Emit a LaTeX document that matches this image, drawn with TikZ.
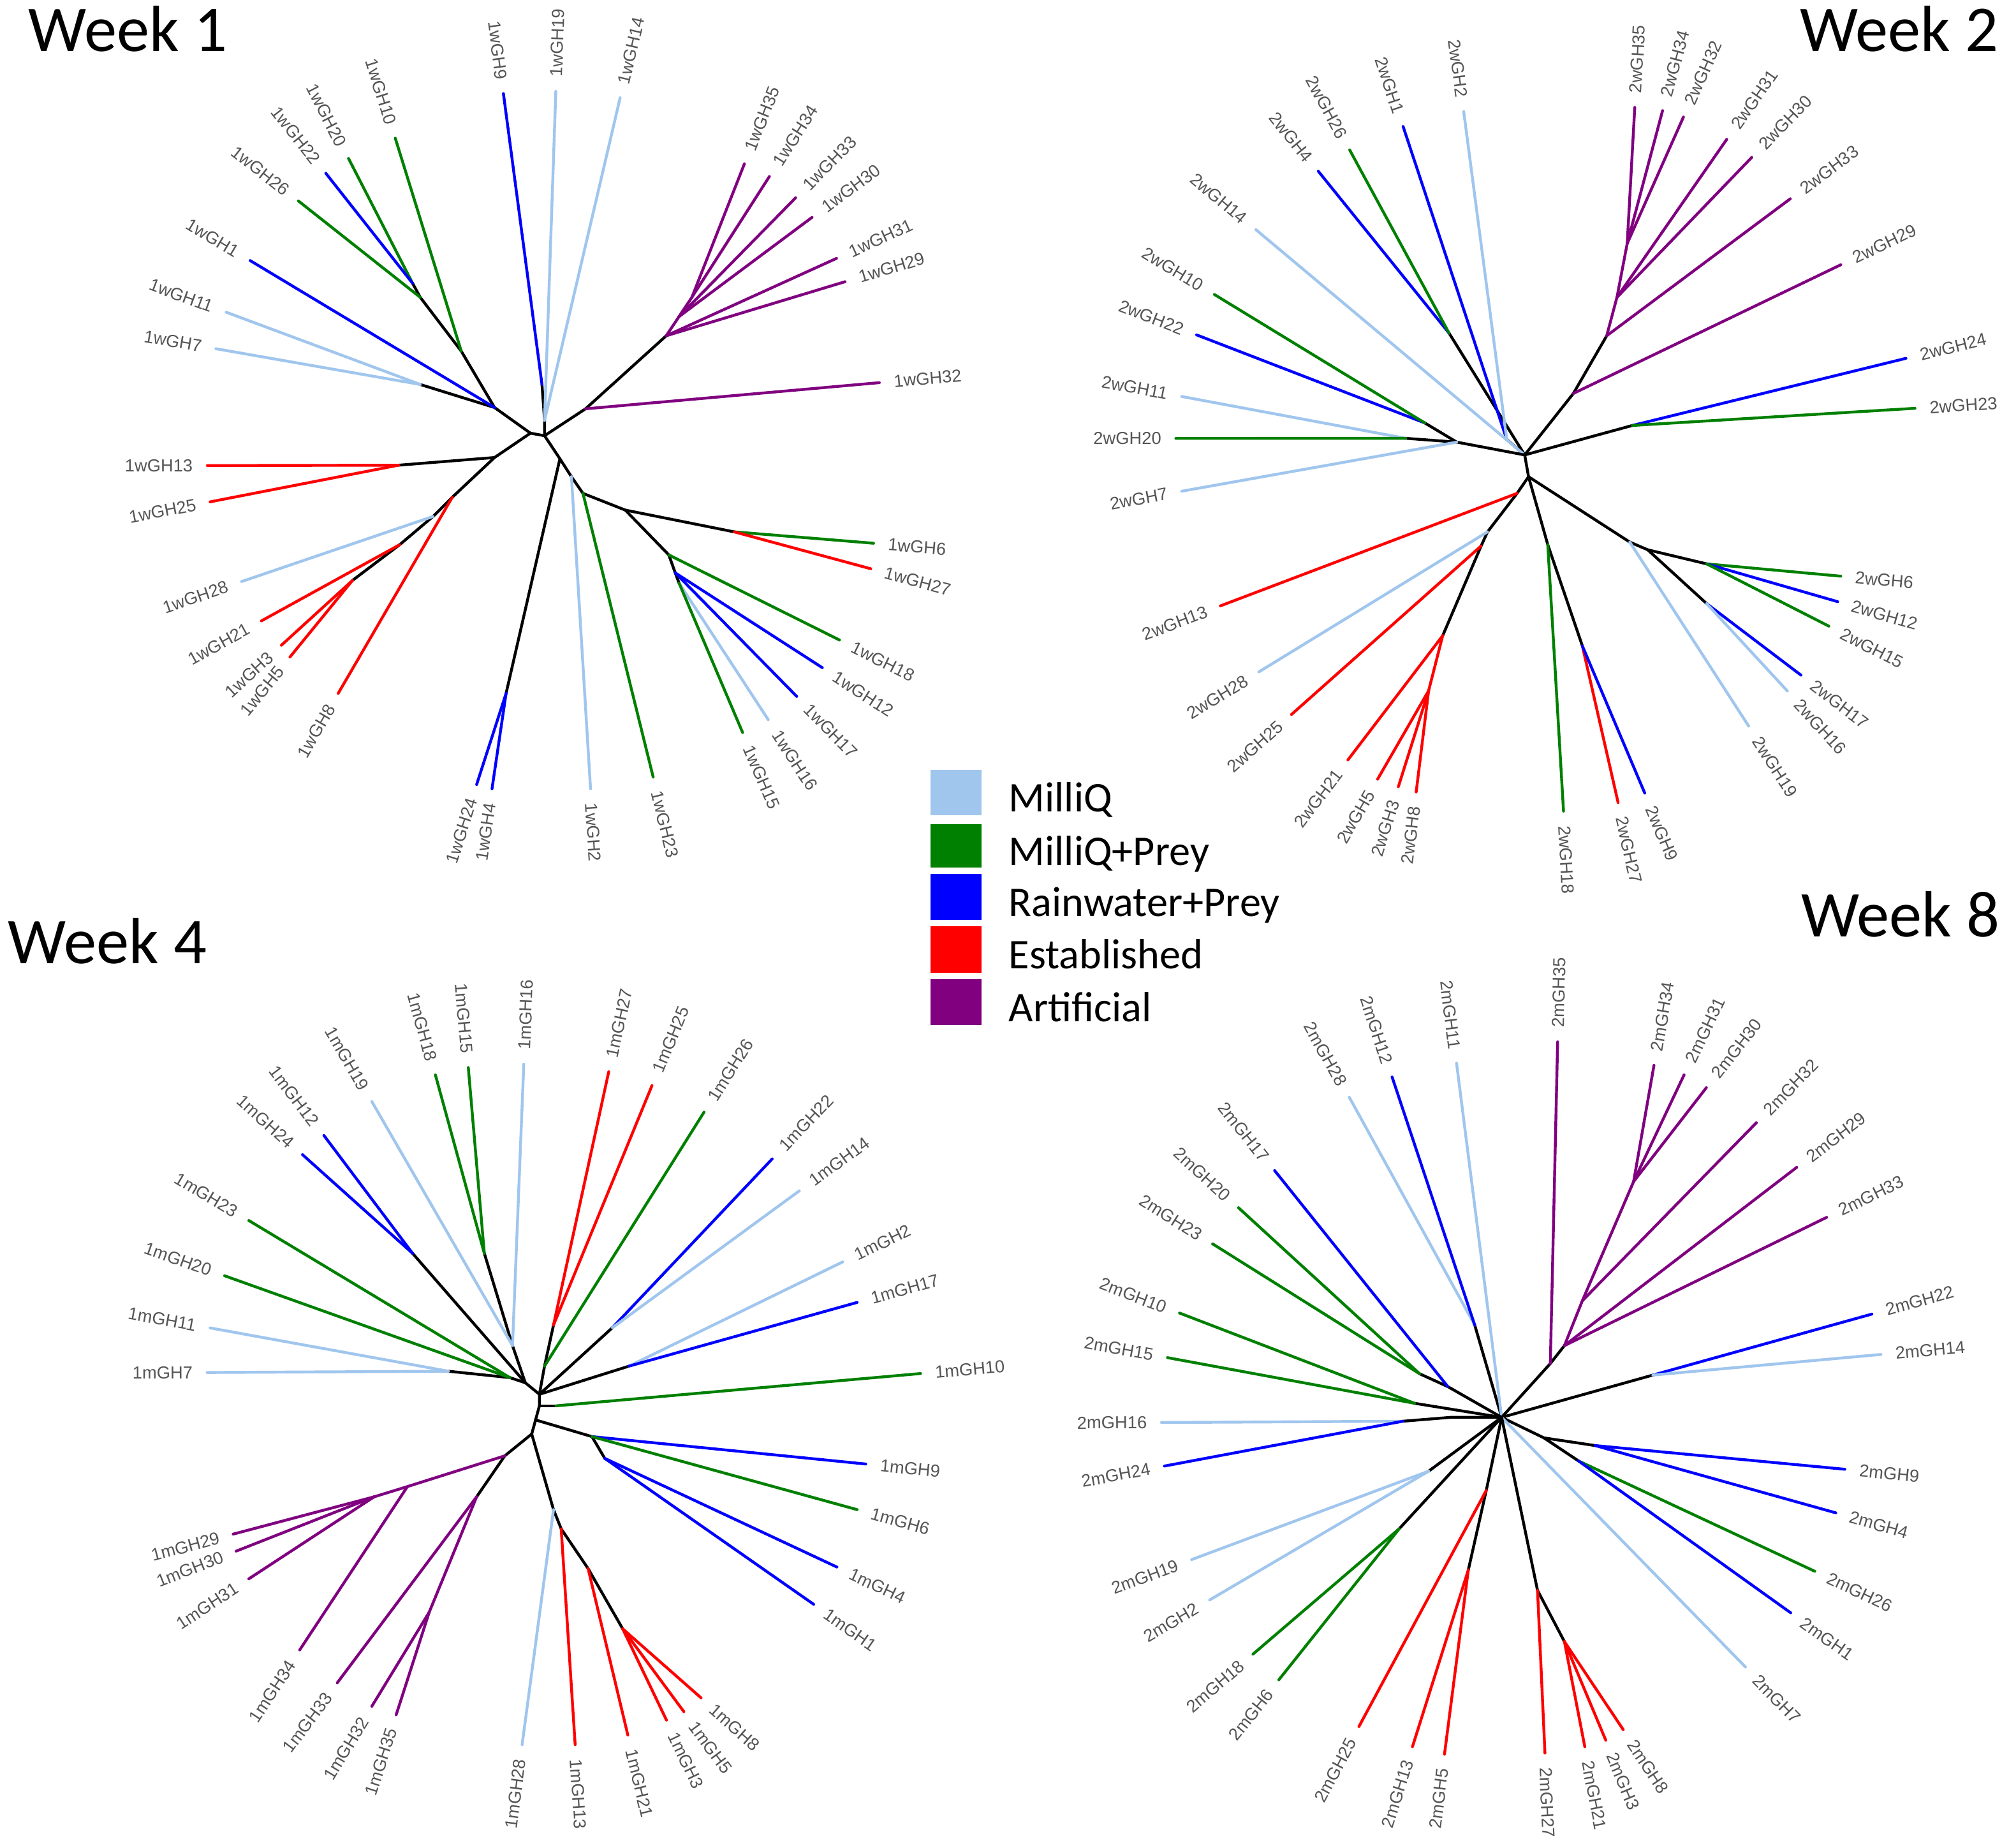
\documentclass[tikz,border=0pt]{standalone}
\usepackage{fontspec}
\usetikzlibrary{calc}
\newfontfamily\lblfont{Liberation Sans}
\newfontfamily\calfont{Carlito}
\definecolor{mq}{RGB}{160,198,238}
\definecolor{mp}{RGB}{0,128,0}
\definecolor{rp}{RGB}{0,0,255}
\definecolor{es}{RGB}{255,0,0}
\definecolor{ar}{RGB}{128,0,128}
\definecolor{lblgray}{RGB}{85,85,85}
\tikzset{
  br/.style={line width=1.1pt, line cap=round, line join=round},
  lbl/.style={font=\lblfont\fontsize{6.8}{8}\selectfont, text=lblgray, inner sep=0pt},
  wtitle/.style={font=\calfont\fontsize{25.5}{28}\selectfont, inner sep=0pt},
  legbox/.style={minimum width=20pt, inner sep=0pt, draw=none},
  legtxt/.style={font=\calfont\fontsize{16.5}{18}\selectfont, inner sep=0pt},
}
\newif\ifleafflip
\newcommand\leafedge[5]{%
  \coordinate (#5) at (#3);
  \draw[br,#1] (#2) -- (#5);
  \pgfmathanglebetweenpoints{\pgfpointanchor{#2}{center}}{\pgfpointanchor{#5}{center}}%
  \pgfmathparse{mod(\pgfmathresult+360,360)}%
  \edef\leafang{\pgfmathresult}%
  \leafflipfalse
  \ifdim\leafang pt>90pt\relax\ifdim\leafang pt<270pt\relax\leaffliptrue\fi\fi
  \ifleafflip
    \node[lbl,anchor=east,rotate={\leafang-180}] (#5l) at ($(#5)!-5.5pt!(#2)$) {#4};
  \else
    \node[lbl,anchor=west,rotate={\leafang}] (#5l) at ($(#5)!-5.5pt!(#2)$) {#4};
  \fi
}
\begin{document}
\begin{tikzpicture}[x=0.5pt,y=-0.5pt]
\fill[white] (0,0) rectangle (1568,1442);
\useasboundingbox (0,0) rectangle (1568,1442);

% ---------------- titles ----------------
\node[wtitle,anchor=base west] (t1) at (22,40) {Week 1};
\node[wtitle,anchor=base east] (t2) at (1560,40) {Week 2};
\node[wtitle,anchor=base west] (t4) at (6,752) {Week 4};
\node[wtitle,anchor=base east] (t8) at (1561,731) {Week 8};

% ---------------- legend ----------------
\node[legbox,fill=mq,minimum height=17.5pt] (k1) at (746,618.5) {};
\node[legbox,fill=mp,minimum height=17pt] (k2) at (746,660) {};
\node[legbox,fill=rp,minimum height=18pt] (k3) at (746,700) {};
\node[legbox,fill=es,minimum height=18pt] (k4) at (746,741) {};
\node[legbox,fill=ar,minimum height=18pt] (k5) at (746,782) {};
\node[legtxt,anchor=base west] (k1t) at (787,633.5) {MilliQ};
\node[legtxt,anchor=base west] (k2t) at (787,675) {MilliQ+Prey};
\node[legtxt,anchor=base west] (k3t) at (787,715) {Rainwater+Prey};
\node[legtxt,anchor=base west] (k4t) at (787,756) {Established};
\node[legtxt,anchor=base west] (k5t) at (787,797) {Artificial};

% ================= Week 1 =================
\coordinate (aC1) at (414,338);
\coordinate (aC2) at (425,340);
\draw[br] (aC1) -- (aC2);
% top-left
\coordinate (an1a) at (322,221);
\coordinate (an1b) at (328,232);
\coordinate (an1c) at (360,274);
\coordinate (an1d) at (386,318);
\coordinate (an1e) at (328,300);
\draw[br] (an1a)--(an1b)--(an1c)--(an1d)--(aC1);
\draw[br] (an1e)--(an1d);
\leafedge{mp}{an1a}{272,123.6}{1wGH20}{a20}
\leafedge{rp}{an1a}{254.3,135.2}{1wGH22}{a22}
\leafedge{mp}{an1b}{232.9,156.8}{1wGH26}{a26}
\leafedge{mp}{an1c}{308.5,107.8}{1wGH10}{a10}
\leafedge{rp}{an1d}{195.2,203.3}{1wGH1}{a1}
\leafedge{mq}{an1e}{176.5,243.6}{1wGH11}{a11}
\leafedge{mq}{an1e}{168.5,272.1}{1wGH7}{a7}
% top
\coordinate (an1f) at (423,300);
\coordinate (an1g) at (425,328);
\draw[br] (an1f)--(an1g)--(aC2);
\leafedge{rp}{an1f}{392.9,73}{1wGH9}{a9}
\leafedge{mq}{an1g}{433.8,71.3}{1wGH19}{a19}
\leafedge{mq}{an1g}{484,76.3}{1wGH14}{a14}
% purple
\coordinate (aq0) at (457,319);
\coordinate (ap1) at (520,262);
\coordinate (ap2) at (530,247);
\coordinate (ap3) at (540,232);
\draw[br] (aC2)--(aq0)--(ap1);
\draw[br,ar] (ap1)--(ap2)--(ap3);
\leafedge{ar}{aq0}{686.3,298.6}{1wGH32}{a32}
\leafedge{ar}{ap1}{659.6,219.8}{1wGH29}{a29}
\leafedge{ar}{ap1}{652.9,201.6}{1wGH31}{a31}
\leafedge{ar}{ap2}{633.8,169.6}{1wGH30}{a30}
\leafedge{ar}{ap2}{621,154.3}{1wGH33}{a33}
\leafedge{ar}{ap3}{600.5,137.7}{1wGH34}{a34}
\leafedge{ar}{ap3}{581,127.8}{1wGH35}{a35}
% left / bottom-left
\coordinate (aa1) at (386,357);
\coordinate (ar0) at (311,363);
\coordinate (ab1) at (353,388);
\coordinate (ac1) at (338,403);
\coordinate (ad1) at (312,425);
\coordinate (ae1) at (275,453);
\draw[br] (aC1)--(aa1)--(ab1)--(ac1)--(ad1)--(ae1);
\draw[br] (aa1)--(ar0);
\leafedge{es}{ar0}{161.8,363.3}{1wGH13}{a13}
\leafedge{es}{ar0}{164,391.6}{1wGH25}{a25}
\leafedge{es}{ab1}{264,541}{1wGH8}{a8}
\leafedge{mq}{ac1}{188.5,453.8}{1wGH28}{a28}
\leafedge{es}{ad1}{204,484.5}{1wGH21}{a21}
\leafedge{es}{ae1}{219.6,503.5}{1wGH3}{a3}
\leafedge{es}{ae1}{226.3,512.7}{1wGH5}{a5}
% bottom / right
\coordinate (aq1) at (437,358);
\coordinate (ar1) at (395,541);
\coordinate (aq2) at (446,372);
\coordinate (aq3) at (455,385);
\coordinate (aq4) at (488,398);
\coordinate (as0) at (573,415);
\coordinate (as1) at (522,433);
\coordinate (as2) at (527,447);
\coordinate (as3) at (530,455);
\draw[br] (aC2)--(aq1)--(aq2)--(aq3)--(aq4)--(as0);
\draw[br] (aq1)--(ar1);
\draw[br] (aq4)--(as1)--(as2)--(as3);
\leafedge{rp}{ar1}{372,612.2}{1wGH24}{a24}
\leafedge{rp}{ar1}{384,615.5}{1wGH4}{a4}
\leafedge{mq}{aq2}{460.9,615.5}{1wGH2}{a2}
\leafedge{mp}{aq3}{509.8,606.4}{1wGH23}{a23}
\leafedge{mp}{as0}{681.8,423.9}{1wGH6}{a6}
\leafedge{es}{as0}{679.6,443.8}{1wGH27}{a27}
\leafedge{mp}{as1}{655.2,499.4}{1wGH18}{a18}
\leafedge{rp}{as2}{641.8,521}{1wGH12}{a12}
\leafedge{rp}{as2}{621.8,543.4}{1wGH17}{a17}
\leafedge{mq}{as3}{599.6,561.6}{1wGH16}{a16}
\leafedge{mp}{as3}{579.6,571.6}{1wGH15}{a15}

% ================= Week 2 =================
\coordinate (bC1) at (1190,355);
\coordinate (bC2) at (1193,372);
\draw[br] (bC1)--(bC2);
\coordinate (bT1) at (1131,260);
\coordinate (bT2) at (1176,343);
\draw[br] (bT1)--(bC1);
\draw[br] (bT2)--(bC1);
\leafedge{rp}{bT1}{1028.9,133.6}{2wGH4}{b4}
\leafedge{mp}{bT1}{1053.4,117}{2wGH26}{b26}
\leafedge{rp}{bT2}{1095.1,98.7}{2wGH1}{b1}
\leafedge{mq}{bT2}{1142.4,87.1}{2wGH2}{b2}
\leafedge{mq}{bC1}{980.2,179.2}{2wGH14}{b14}
% left
\coordinate (bLa) at (1097,342);
\coordinate (bLc) at (1112,330);
\coordinate (bLb) at (1137,345);
\draw[br] (bLa)--(bLb)--(bC1);
\draw[br] (bLc)--(bLb);
\leafedge{mq}{bLa}{922.3,309.4}{2wGH11}{b11}
\leafedge{mp}{bLa}{917.7,342.1}{2wGH20}{b20}
\leafedge{rp}{bLc}{933.9,261.3}{2wGH22}{b22}
\leafedge{mp}{bLc}{947.8,229.8}{2wGH10}{b10}
\leafedge{mq}{bLb}{922.3,383.3}{2wGH7}{b7}
% right
\coordinate (bR1) at (1274,332);
\draw[br] (bC1)--(bR1);
\leafedge{rp}{bR1}{1487.6,279.6}{2wGH24}{b24}
\leafedge{mp}{bR1}{1494.6,318.6}{2wGH23}{b23}
% purple
\coordinate (bP0) at (1228,307);
\coordinate (bP1) at (1254,262);
\coordinate (bP2) at (1262,232);
\coordinate (bP3) at (1270,190);
\draw[br] (bC1)--(bP0)--(bP1);
\draw[br,ar] (bP1)--(bP2)--(bP3);
\leafedge{ar}{bP0}{1436.7,206.6}{2wGH29}{b29}
\leafedge{ar}{bP1}{1397.3,155.1}{2wGH33}{b33}
\leafedge{ar}{bP2}{1367.2,122.8}{2wGH30}{b30}
\leafedge{ar}{bP2}{1347.7,108.7}{2wGH31}{b31}
\leafedge{ar}{bP3}{1313.9,91.3}{2wGH32}{b32}
\leafedge{ar}{bP3}{1297.6,86.3}{2wGH34}{b34}
\leafedge{ar}{bP3}{1275.9,83.8}{2wGH35}{b35}
% bottom-left
\coordinate (bN1) at (1184,385);
\coordinate (bN2) at (1161,415);
\coordinate (bN3) at (1156,426);
\coordinate (bB1) at (1126,496);
\coordinate (bB2) at (1115,539);
\draw[br] (bC2)--(bN1)--(bN2)--(bN3)--(bB1);
\draw[br,es] (bB1)--(bB2);
\leafedge{es}{bN1}{952.4,472.8}{2wGH13}{b13}
\leafedge{mq}{bN2}{982.5,524.3}{2wGH28}{b28}
\leafedge{es}{bN3}{1008,557.5}{2wGH25}{b25}
\leafedge{es}{bB1}{1052,593}{2wGH21}{b21}
\leafedge{es}{bB2}{1075.2,608}{2wGH5}{b5}
\leafedge{es}{bB2}{1091.4,613.9}{2wGH3}{b3}
\leafedge{es}{bB2}{1105.3,618}{2wGH8}{b8}
% bottom
\coordinate (bO1) at (1208,425);
\coordinate (bO2) at (1235,504);
\draw[br] (bC2)--(bO1)--(bO2);
\leafedge{mp}{bO1}{1220.3,633}{2wGH18}{b18}
\leafedge{es}{bO2}{1262.9,626.3}{2wGH27}{b27}
\leafedge{rp}{bO2}{1283.7,618.9}{2wGH9}{b9}
% bottom-right
\coordinate (bD1) at (1272,423);
\coordinate (bE1) at (1286,429);
\coordinate (bE2) at (1332,440);
\coordinate (bE3) at (1332,471);
\draw[br] (bC2)--(bD1)--(bE1)--(bE2);
\draw[br] (bE1)--(bE3);
\leafedge{mq}{bD1}{1364.8,566.6}{2wGH19}{b19}
\leafedge{mp}{bE2}{1436.7,449.6}{2wGH6}{b6}
\leafedge{rp}{bE2}{1434.3,469.5}{2wGH12}{b12}
\leafedge{mp}{bE2}{1427.4,488.6}{2wGH15}{b15}
\leafedge{rp}{bE3}{1405.6,526.8}{2wGH17}{b17}
\leafedge{mq}{bE3}{1395,539.2}{2wGH16}{b16}

% ================= Week 4 =================
\coordinate (cA0) at (410,1079);
\coordinate (cA1) at (421,1088);
\coordinate (cA2) at (421,1097);
\coordinate (cA3) at (418,1108);
\coordinate (cA4) at (415,1119);
\draw[br] (cA0)--(cA1)--(cA2)--(cA3)--(cA4);
% left
\coordinate (cL1) at (350,1070);
\coordinate (cL2) at (398,1075);
\draw[br] (cL1)--(cL2)--(cA0);
\leafedge{mq}{cL1}{164,1036.2}{1mGH11}{c11}
\leafedge{mq}{cL1}{161.7,1071}{1mGH7}{c7}
\leafedge{mp}{cL2}{175.3,995.5}{1mGH20}{c20}
\leafedge{mp}{cL2}{194.2,952.4}{1mGH23}{c23}
% upper left
\coordinate (cB) at (322,978);
\coordinate (cT) at (400,1050);
\coordinate (cG) at (378,978);
\draw[br] (cB)--(cA0);
\draw[br] (cG)--(cT)--(cA0);
\leafedge{rp}{cB}{236.1,901}{1mGH24}{c24}
\leafedge{rp}{cB}{252.8,886}{1mGH12}{c12}
\leafedge{mq}{cT}{290.2,859.5}{1mGH19}{c19}
\leafedge{mp}{cG}{339.8,838.7}{1mGH18}{c18}
\leafedge{mp}{cG}{365.5,833}{1mGH15}{c15}
\leafedge{mq}{cT}{408.8,830.4}{1mGH16}{c16}
% upper right
\coordinate (cR1) at (432,1034);
\coordinate (cR2) at (425,1066);
\coordinate (cR3) at (478,1036);
\coordinate (cR4) at (491,1066);
\coordinate (cE) at (434,1097);
\draw[br] (cR1)--(cR2)--(cA1);
\draw[br] (cR3)--(cA1);
\draw[br] (cR4)--(cA1);
\draw[br] (cA2)--(cE);
\leafedge{es}{cR1}{475.1,836.3}{1mGH27}{c27}
\leafedge{es}{cR1}{508.9,847}{1mGH25}{c25}
\leafedge{mp}{cR2}{549.5,867.8}{1mGH26}{c26}
\leafedge{rp}{cR3}{602.7,904.3}{1mGH22}{c22}
\leafedge{mq}{cR3}{623.9,929.2}{1mGH14}{c14}
\leafedge{mq}{cR4}{657.7,984.7}{1mGH2}{c2}
\leafedge{rp}{cR4}{669,1016.3}{1mGH17}{c17}
\leafedge{mp}{cE}{718.5,1071.8}{1mGH10}{c10}
% right-down
\coordinate (cD1) at (462,1121);
\coordinate (cD2) at (472,1138);
\draw[br] (cA3)--(cD1)--(cD2);
\leafedge{rp}{cD1}{675.7,1142.4}{1mGH9}{c9}
\leafedge{mp}{cD1}{669,1178}{1mGH6}{c6}
\leafedge{rp}{cD2}{653.2,1222.8}{1mGH4}{c4}
\leafedge{rp}{cD2}{635.1,1251.9}{1mGH1}{c1}
% purple
\coordinate (cPa) at (394,1136);
\coordinate (cPb) at (318,1160);
\coordinate (cPc) at (292,1168);
\coordinate (cQa) at (372,1168);
\coordinate (cQb) at (335,1258);
\draw[br] (cA4)--(cPa)--(cQa);
\draw[br,ar] (cPa)--(cPb)--(cPc);
\draw[br,ar] (cQa)--(cQb);
\leafedge{ar}{cPc}{182,1197.1}{1mGH29}{c29}
\leafedge{ar}{cPc}{184.3,1210.4}{1mGH30}{c30}
\leafedge{ar}{cPc}{194.2,1232}{1mGH31}{c31}
\leafedge{ar}{cPb}{233.9,1287.5}{1mGH34}{c34}
\leafedge{ar}{cQa}{263.2,1313.2}{1mGH33}{c33}
\leafedge{ar}{cQb}{290.2,1331.5}{1mGH32}{c32}
\leafedge{ar}{cQb}{309.2,1338.1}{1mGH35}{c35}
% bottom
\coordinate (cF1) at (432,1178);
\coordinate (cF2) at (438,1193);
\coordinate (cF3) at (459,1224);
\coordinate (cF4) at (486,1271);
\draw[br] (cA4)--(cF1)--(cF2)--(cF3)--(cF4);
\leafedge{mq}{cF1}{407.5,1361.4}{1mGH28}{c28}
\leafedge{es}{cF2}{448.9,1361.4}{1mGH13}{c13}
\leafedge{es}{cF3}{490,1353.9}{1mGH21}{c21}
\leafedge{es}{cF4}{520.2,1342.3}{1mGH3}{c3}
\leafedge{es}{cF4}{533.7,1335.6}{1mGH5}{c5}
\leafedge{es}{cF4}{547.2,1324.9}{1mGH8}{c8}

% ================= Week 8 =================
\coordinate (dC) at (1172,1106);
% top
\coordinate (dHa) at (1151,1034);
\draw[br] (dHa)--(dC);
\leafedge{mq}{dHa}{1053.1,856.2}{2mGH28}{d28}
\leafedge{rp}{dHa}{1086.5,840.4}{2mGH12}{d12}
\leafedge{mq}{dC}{1136.8,829.6}{2mGH11}{d11}
% purple
\coordinate (dPP2) at (1210,1064);
\coordinate (dPP1) at (1221,1050);
\coordinate (dPP3) at (1235,1015);
\coordinate (dPP4) at (1275,922);
\draw[br] (dC)--(dPP2)--(dPP1);
\draw[br,ar] (dPP1)--(dPP3)--(dPP4);
\leafedge{ar}{dPP2}{1215.7,813}{2mGH35}{d35}
\leafedge{ar}{dPP4}{1290.9,831.3}{2mGH34}{d34}
\leafedge{ar}{dPP4}{1314.4,838.7}{2mGH31}{d31}
\leafedge{ar}{dPP4}{1331.8,848.7}{2mGH30}{d30}
\leafedge{ar}{dPP3}{1370.8,876.1}{2mGH32}{d32}
\leafedge{ar}{dPP1}{1402.3,910.9}{2mGH29}{d29}
\leafedge{ar}{dPP1}{1425.7,949.9}{2mGH33}{d33}
% left
\coordinate (dG1) at (1108,1072);
\coordinate (dG2) at (1130,1082);
\coordinate (dG3) at (1104,1095);
\coordinate (dH1) at (1095,1109);
\coordinate (dH2) at (1132,1106);
\draw[br] (dG1)--(dG2)--(dC);
\draw[br] (dG3)--(dC);
\draw[br] (dH1)--(dH2)--(dC);
\leafedge{mp}{dG1}{966.6,942.4}{2mGH20}{d20}
\leafedge{mp}{dG1}{946.4,970.6}{2mGH23}{d23}
\leafedge{rp}{dG2}{994.8,913.4}{2mGH17}{d17}
\leafedge{mp}{dG3}{920.6,1024.6}{2mGH10}{d10}
\leafedge{mp}{dG3}{911.2,1059.4}{2mGH15}{d15}
\leafedge{mq}{dH1}{906.5,1110}{2mGH16}{d16}
\leafedge{rp}{dH1}{908.8,1144}{2mGH24}{d24}
% right
\coordinate (dI1) at (1290,1073);
\draw[br] (dC)--(dI1);
\leafedge{rp}{dI1}{1461,1025.4}{2mGH22}{d22}
\leafedge{mq}{dI1}{1468,1056.9}{2mGH14}{d14}
\coordinate (dJ0) at (1205,1122);
\coordinate (dJ1) at (1245,1128);
\coordinate (dJ2) at (1232,1140);
\draw[br] (dC)--(dJ0)--(dJ1);
\draw[br] (dJ0)--(dJ2);
\leafedge{rp}{dJ1}{1439.9,1146.5}{2mGH9}{d9}
\leafedge{rp}{dJ1}{1432.8,1180.5}{2mGH4}{d4}
\leafedge{mp}{dJ2}{1416.4,1226.1}{2mGH26}{d26}
\leafedge{rp}{dJ2}{1397.6,1258.5}{2mGH1}{d1}
\leafedge{mq}{dC}{1362.3,1300.8}{2mGH7}{d7}
% bottom
\coordinate (dK1) at (1115,1148);
\coordinate (dK3) at (1092,1193);
\coordinate (dL1) at (1160,1163);
\coordinate (dL2) at (1146,1225);
\coordinate (dM1) at (1200,1241);
\coordinate (dM2) at (1221,1281);
\draw[br] (dC)--(dK1);
\draw[br] (dC)--(dK3);
\draw[br] (dC)--(dL1)--(dL2);
\draw[br] (dC)--(dM1)--(dM2);
\leafedge{mq}{dK1}{930,1217}{2mGH19}{d19}
\leafedge{mq}{dK1}{944.1,1248.5}{2mGH2}{d2}
\leafedge{mp}{dK3}{977.9,1290.8}{2mGH18}{d18}
\leafedge{mp}{dK3}{998.1,1310.8}{2mGH6}{d6}
\leafedge{es}{dL1}{1060.6,1347.3}{2mGH25}{d25}
\leafedge{es}{dL2}{1102.4,1363}{2mGH13}{d13}
\leafedge{es}{dL2}{1127.4,1368.8}{2mGH5}{d5}
\leafedge{es}{dM1}{1205.8,1368}{2mGH27}{d27}
\leafedge{es}{dM2}{1236.9,1363}{2mGH21}{d21}
\leafedge{es}{dM2}{1253.3,1358}{2mGH3}{d3}
\leafedge{es}{dM2}{1266.9,1349.7}{2mGH8}{d8}
\end{tikzpicture}
\end{document}
